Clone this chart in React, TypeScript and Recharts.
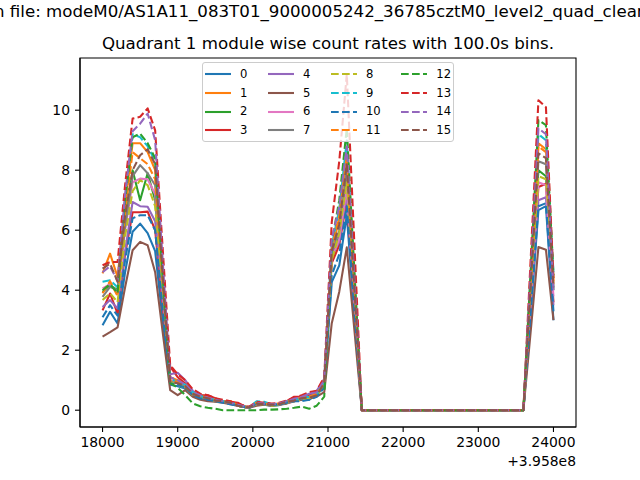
import React from 'react';
import { LineChart, Line, XAxis, YAxis, Legend, ReferenceArea } from 'recharts';

// bin times (s, offset from 3.958e8), three good-time intervals
const times = [
  18000, 18100, 18200, 18300, 18400, 18500, 18600, 18700, 18800, 18900,
  19000, 19100, 19200, 19300, 19400, 19500, 19600, 19700, 19800, 19900,
  19950, 20050, 20150, 20250, 20350, 20450, 20550, 20650, 20750, 20850, 20950,
  21050, 21150, 21250, 21350,
  21450, 21550, 21650, 21750, 21850, 21950, 22050, 22150, 22250, 22350,
  22450, 22550, 22650, 22750, 22850, 22950, 23050, 23150, 23250, 23350,
  23450, 23550, 23600,
  23700, 23800, 23900, 24000,
];

const m0 = [
  2.83, 3.28, 2.89, 4.6, 5.95, 6.22, 5.9, 5.3, 3.0, 0.85,
  0.8, 0.72, 0.5, 0.4, 0.35, 0.3, 0.28, 0.22, 0.15, 0.1,
  0.08, 0.2, 0.18, 0.15, 0.17, 0.25, 0.3, 0.35, 0.35, 0.5, 0.8,
  4.27, 4.83, 6.5, 3.2,
  0, 0, 0, 0, 0, 0, 0, 0, 0, 0, 0, 0, 0, 0, 0, 0, 0, 0, 0, 0, 0, 0, 0,
  3.3, 6.67, 6.8, 3.0,
];
const m1 = [
  4.56, 5.22, 4.44, 6.8, 8.9, 8.9, 8.6, 8.0, 4.5, 1.1,
  1.0, 0.85, 0.6, 0.5, 0.45, 0.35, 0.3, 0.3, 0.2, 0.12,
  0.1, 0.22, 0.25, 0.2, 0.2, 0.28, 0.35, 0.4, 0.4, 0.55, 0.9,
  5.3, 6.4, 8.6, 4.3,
  0, 0, 0, 0, 0, 0, 0, 0, 0, 0, 0, 0, 0, 0, 0, 0, 0, 0, 0, 0, 0, 0, 0,
  4.4, 8.9, 8.7, 4.3,
];
const m2 = [
  3.94, 4.17, 4.0, 6.2, 8.0, 7.0, 7.9, 7.0, 4.0, 0.95,
  0.9, 0.8, 0.55, 0.45, 0.4, 0.3, 0.3, 0.25, 0.15, 0.1,
  0.1, 0.2, 0.2, 0.18, 0.2, 0.25, 0.32, 0.38, 0.4, 0.5, 0.85,
  5.0, 5.8, 7.8, 3.9,
  0, 0, 0, 0, 0, 0, 0, 0, 0, 0, 0, 0, 0, 0, 0, 0, 0, 0, 0, 0, 0, 0, 0,
  4.0, 8.0, 7.8, 4.0,
];
const m3 = [
  3.33, 3.89, 3.22, 5.2, 6.6, 6.6, 6.62, 6.0, 3.4, 1.45,
  1.1, 0.9, 0.6, 0.5, 0.5, 0.4, 0.3, 0.28, 0.25, 0.12,
  0.1, 0.22, 0.2, 0.2, 0.22, 0.3, 0.45, 0.45, 0.5, 0.6, 1.0,
  4.9, 5.5, 7.0, 3.5,
  0, 0, 0, 0, 0, 0, 0, 0, 0, 0, 0, 0, 0, 0, 0, 0, 0, 0, 0, 0, 0, 0, 0,
  3.7, 7.44, 7.55, 3.6,
];
const m4 = [
  3.44, 3.67, 3.39, 5.3, 6.94, 6.8, 6.78, 6.3, 3.6, 1.2,
  1.25, 1.0, 0.65, 0.45, 0.4, 0.35, 0.3, 0.25, 0.18, 0.1,
  0.1, 0.2, 0.22, 0.18, 0.2, 0.3, 0.35, 0.45, 0.55, 0.65, 1.05,
  5.2, 5.6, 7.2, 3.6,
  0, 0, 0, 0, 0, 0, 0, 0, 0, 0, 0, 0, 0, 0, 0, 0, 0, 0, 0, 0, 0, 0, 0,
  3.5, 7.0, 7.1, 3.5,
];
const m5 = [
  2.45, 2.6, 2.76, 4.1, 5.33, 5.61, 5.5, 4.6, 2.6, 0.67,
  0.5, 0.67, 0.45, 0.35, 0.3, 0.28, 0.25, 0.2, 0.15, 0.1,
  0.08, 0.15, 0.18, 0.15, 0.18, 0.22, 0.3, 0.35, 0.4, 0.45, 0.6,
  2.9, 3.95, 5.43, 2.7,
  0, 0, 0, 0, 0, 0, 0, 0, 0, 0, 0, 0, 0, 0, 0, 0, 0, 0, 0, 0, 0, 0, 0,
  2.7, 5.44, 5.35, 3.0,
];
const m6 = [
  4.06, 4.2, 3.9, 6.0, 7.6, 7.72, 7.7, 7.2, 4.0, 1.0,
  0.95, 0.85, 0.55, 0.45, 0.4, 0.32, 0.3, 0.25, 0.15, 0.1,
  0.1, 0.25, 0.2, 0.18, 0.2, 0.25, 0.3, 0.4, 0.4, 0.55, 0.9,
  5.1, 5.7, 7.4, 3.7,
  0, 0, 0, 0, 0, 0, 0, 0, 0, 0, 0, 0, 0, 0, 0, 0, 0, 0, 0, 0, 0, 0, 0,
  3.8, 7.6, 7.5, 3.8,
];
const m7 = [
  3.78, 4.11, 4.0, 6.1, 7.8, 8.17, 7.9, 7.5, 4.2, 0.95,
  0.9, 0.8, 0.55, 0.45, 0.38, 0.3, 0.28, 0.22, 0.15, 0.1,
  0.08, 0.2, 0.2, 0.15, 0.2, 0.25, 0.3, 0.38, 0.42, 0.5, 0.85,
  5.2, 6.0, 8.0, 4.0,
  0, 0, 0, 0, 0, 0, 0, 0, 0, 0, 0, 0, 0, 0, 0, 0, 0, 0, 0, 0, 0, 0, 0,
  4.1, 8.3, 8.2, 4.1,
];
const m8 = [
  3.67, 3.9, 3.6, 5.8, 7.3, 7.67, 7.5, 6.8, 3.9, 0.95,
  0.85, 0.75, 0.5, 0.42, 0.38, 0.3, 0.28, 0.22, 0.15, 0.1,
  0.1, 0.2, 0.2, 0.15, 0.18, 0.25, 0.3, 0.35, 0.4, 0.5, 0.8,
  5.0, 5.9, 7.6, 3.8,
  0, 0, 0, 0, 0, 0, 0, 0, 0, 0, 0, 0, 0, 0, 0, 0, 0, 0, 0, 0, 0, 0, 0,
  3.9, 7.8, 7.7, 4.4,
];
const m9 = [
  4.28, 4.33, 4.1, 7.0, 9.2, 9.1, 8.8, 8.3, 4.6, 1.05,
  0.95, 0.85, 0.6, 0.48, 0.4, 0.35, 0.3, 0.25, 0.18, 0.12,
  0.1, 0.3, 0.28, 0.2, 0.2, 0.28, 0.35, 0.4, 0.45, 0.55, 0.95,
  5.5, 6.7, 9.0, 4.5,
  0, 0, 0, 0, 0, 0, 0, 0, 0, 0, 0, 0, 0, 0, 0, 0, 0, 0, 0, 0, 0, 0, 0,
  4.6, 9.2, 9.0, 4.6,
];
const m10 = [
  3.1, 3.5, 3.15, 5.0, 6.4, 6.5, 6.5, 6.0, 3.4, 0.9,
  0.85, 0.75, 0.5, 0.4, 0.35, 0.3, 0.25, 0.2, 0.15, 0.1,
  0.08, 0.22, 0.2, 0.18, 0.18, 0.25, 0.3, 0.3, 0.35, 0.45, 0.75,
  4.5, 5.2, 6.8, 3.4,
  0, 0, 0, 0, 0, 0, 0, 0, 0, 0, 0, 0, 0, 0, 0, 0, 0, 0, 0, 0, 0, 0, 0,
  3.4, 6.8, 6.9, 3.3,
];
const m11 = [
  3.9, 4.3, 3.8, 6.6, 8.6, 8.4, 8.2, 7.7, 4.3, 1.0,
  0.95, 0.8, 0.55, 0.48, 0.42, 0.35, 0.3, 0.3, 0.18, 0.12,
  0.1, 0.25, 0.22, 0.2, 0.22, 0.28, 0.35, 0.42, 0.45, 0.55, 0.9,
  5.4, 6.5, 8.5, 4.2,
  0, 0, 0, 0, 0, 0, 0, 0, 0, 0, 0, 0, 0, 0, 0, 0, 0, 0, 0, 0, 0, 0, 0,
  4.4, 8.8, 8.6, 4.2,
];
const m12 = [
  4.0, 4.2, 3.9, 7.0, 9.1, 9.22, 8.9, 8.4, 4.5, 0.9,
  0.75, 0.5, 0.23, 0.13, 0.08, 0.05, 0.0, 0.0, 0.0, 0.0,
  0.0, 0.0, 0.02, 0.02, 0.03, 0.05, 0.08, 0.12, 0.05, 0.15, 0.45,
  5.6, 7.0, 9.4, 4.7,
  0, 0, 0, 0, 0, 0, 0, 0, 0, 0, 0, 0, 0, 0, 0, 0, 0, 0, 0, 0, 0, 0, 0,
  4.8, 9.67, 9.5, 4.5,
];
const m13 = [
  4.83, 4.94, 4.94, 7.5, 9.72, 9.78, 10.06, 9.33, 5.4, 1.5,
  1.2, 1.0, 0.7, 0.55, 0.5, 0.4, 0.35, 0.3, 0.2, 0.15,
  0.12, 0.28, 0.25, 0.22, 0.25, 0.32, 0.42, 0.5, 0.6, 0.65, 1.1,
  6.27, 8.3, 11.2, 5.6,
  0, 0, 0, 0, 0, 0, 0, 0, 0, 0, 0, 0, 0, 0, 0, 0, 0, 0, 0, 0, 0, 0, 0,
  5.2, 10.33, 10.1, 4.4,
];
const m14 = [
  4.6, 4.8, 4.3, 7.2, 9.3, 9.55, 9.89, 9.0, 5.0, 1.1,
  1.0, 0.85, 0.6, 0.5, 0.42, 0.35, 0.3, 0.25, 0.18, 0.12,
  0.1, 0.25, 0.22, 0.2, 0.22, 0.3, 0.38, 0.45, 0.55, 0.6, 1.0,
  5.7, 6.8, 8.8, 4.4,
  0, 0, 0, 0, 0, 0, 0, 0, 0, 0, 0, 0, 0, 0, 0, 0, 0, 0, 0, 0, 0, 0, 0,
  4.7, 9.4, 9.2, 4.0,
];
const m15 = [
  4.72, 4.89, 4.28, 6.5, 8.0, 8.5, 8.7, 8.2, 4.5, 0.95,
  0.9, 0.8, 0.55, 0.45, 0.4, 0.32, 0.3, 0.25, 0.15, 0.1,
  0.1, 0.22, 0.2, 0.18, 0.2, 0.28, 0.32, 0.4, 0.42, 0.5, 0.9,
  5.3, 6.2, 8.2, 4.1,
  0, 0, 0, 0, 0, 0, 0, 0, 0, 0, 0, 0, 0, 0, 0, 0, 0, 0, 0, 0, 0, 0, 0,
  4.3, 8.56, 8.4, 4.1,
];

const modules = [m0, m1, m2, m3, m4, m5, m6, m7, m8, m9, m10, m11, m12, m13, m14, m15];
const xTicks = [18000, 19000, 20000, 21000, 22000, 23000, 24000];
const yTicks = [0, 2, 4, 6, 8, 10];
const X_DOMAIN: [number, number] = [17700, 24300];
const Y_DOMAIN: [number, number] = [-0.56, 11.74];

const tab10 = ['#1f77b4', '#ff7f0e', '#2ca02c', '#d62728', '#9467bd', '#8c564b', '#e377c2', '#7f7f7f', '#bcbd22', '#17becf'];
const DASH = '7.7 3.3';
const FONT = 'DejaVu Sans, sans-serif';
// modules 8-15 are drawn dashed
const isDashed = (j: number) => j >= 8;

const rows = times.map((t, i) => {
  const row: Record<string, number> = { t };
  modules.forEach((m, j) => { row['m' + j] = m[i]; });
  return row;
});

// matplotlib-like legend: 4 columns x 4 rows, column-major
const LegendBox = ({ payload }: any) => {
  const items = modules.map((_, j) => {
    const p = (payload || []).find((e: any) => e.dataKey === 'm' + j);
    return { label: String(j), color: p ? p.color : tab10[j % 10], dashed: isDashed(j) };
  });
  const cols = [items.slice(0, 4), items.slice(4, 8), items.slice(8, 12), items.slice(12, 16)];
  return (
    <div style={{
      boxSizing: 'border-box', width: 252, height: 80, background: 'rgba(255,255,255,0.8)',
      border: '1px solid #cccccc', borderRadius: 3, display: 'flex', padding: '2px 0 0 2px',
      fontFamily: FONT, fontSize: 11.6, color: '#000',
    }}>
      {cols.map((col, ci) => (
        <div key={ci} style={{ display: 'flex', flexDirection: 'column', marginRight: ci < 3 ? 20.6 : 0 }}>
          {col.map((it) => (
            <div key={it.label} style={{ display: 'flex', alignItems: 'center', height: 18.7 }}>
              <svg width={26} height={6} style={{ display: 'block' }}>
                <line x1={0} y1={3} x2={26} y2={3} stroke={it.color} strokeWidth={2.08}
                  strokeDasharray={it.dashed ? DASH : undefined} />
              </svg>
              <span style={{ marginLeft: 9, lineHeight: '13px' }}>{it.label}</span>
            </div>
          ))}
        </div>
      ))}
    </div>
  );
};

const axisStroke = { stroke: '#000', strokeWidth: 1.1 };
const tickStyle = { fill: '#000', fontSize: 13.9, fontFamily: FONT };

export default function App() {
  return (
    <div style={{ position: 'absolute', left: 0, top: 0, width: 640, height: 480, background: '#fff', fontFamily: FONT, overflow: 'hidden' }}>
      <LineChart width={640} height={480} data={rows} margin={{ top: 58, right: 64, bottom: 23, left: 40 }}>
        <XAxis dataKey="t" type="number" domain={X_DOMAIN} ticks={xTicks} interval={0}
          allowDataOverflow height={30} tickSize={5} tickMargin={5}
          axisLine={axisStroke} tickLine={axisStroke} tick={tickStyle} />
        <YAxis type="number" domain={Y_DOMAIN} ticks={yTicks} interval={0} allowDataOverflow
          width={40} tickSize={5} tickMargin={5}
          axisLine={axisStroke} tickLine={axisStroke} tick={tickStyle} />
        {/* axes frame (top and right spines) */}
        <ReferenceArea x1={X_DOMAIN[0]} x2={X_DOMAIN[1]} y1={Y_DOMAIN[0]} y2={Y_DOMAIN[1]}
          fill="none" fillOpacity={0} stroke="#000" strokeWidth={1.1} strokeOpacity={1} ifOverflow="visible" />
        {modules.map((_, j) => (
          <Line key={j} type="linear" dataKey={'m' + j} name={String(j)}
            stroke={tab10[j % 10]} strokeWidth={2.08} strokeLinejoin="round"
            strokeDasharray={isDashed(j) ? DASH : undefined}
            dot={false} activeDot={false} isAnimationActive={false} />
        ))}
        <Legend layout="horizontal" verticalAlign="middle" align="center"
          wrapperStyle={{ left: 202, top: 62, width: 252, height: 80 }}
          content={<LegendBox />} />
      </LineChart>
      <svg width={640} height={480} style={{ position: 'absolute', left: 0, top: 0, pointerEvents: 'none' }}>
        <text x={-11} y={17} fontFamily={FONT} fontSize={16.67} fill="#000">
          In file: modeM0/AS1A11_083T01_9000005242_36785cztM0_level2_quad_clean.evt
        </text>
        <text x={328} y={49} textAnchor="middle" fontFamily={FONT} fontSize={16.67} fill="#000">
          Quadrant 1 module wise count rates with 100.0s bins.
        </text>
        <text x={576} y={466} textAnchor="end" fontFamily={FONT} fontSize={13.9} fill="#000">
          +3.958e8
        </text>
      </svg>
    </div>
  );
}
